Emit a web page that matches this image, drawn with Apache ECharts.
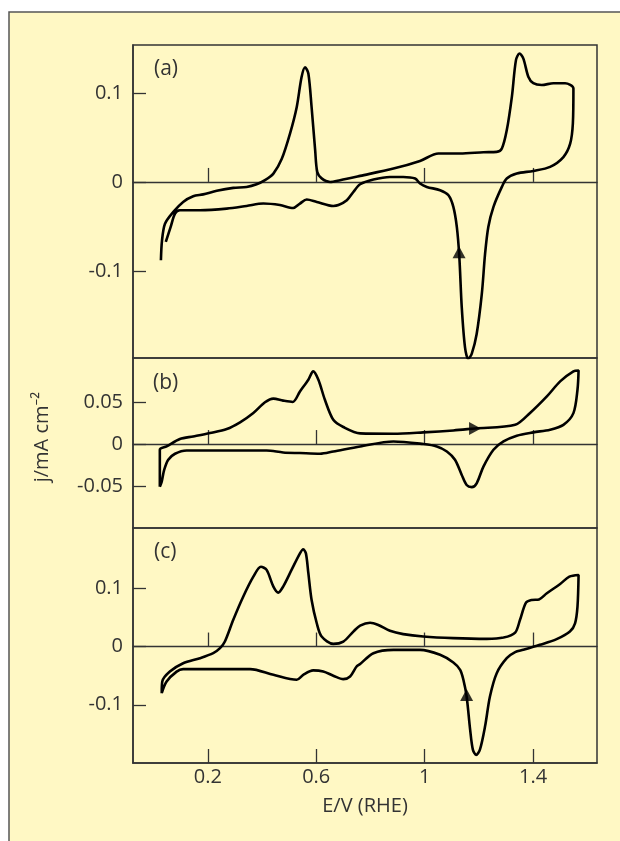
<!DOCTYPE html>
<html>
<head>
<meta charset="utf-8">
<script src="https://cdn.jsdelivr.net/npm/echarts@6/dist/echarts.min.js"></script>
<style>
  html, body { margin: 0; padding: 0; background: #fff; }
  #chart { width: 620px; height: 841px; }
</style>
</head>
<body>
<div id="chart"></div>
<script>
// --- data: [E (V vs RHE), j (mA cm-2)] ---
// (a) full loop, anodic sweep first then cathodic return
var cvA = [
  [0.027,-0.088],[0.031,-0.066],[0.042,-0.047],[0.072,-0.034],[0.109,-0.0225],[0.146,-0.016],
  [0.183,-0.014],[0.233,-0.010],[0.294,-0.0067],[0.343,-0.0056],[0.380,-0.0026],[0.411,0.002],
  [0.442,0.0094],[0.473,0.026],[0.503,0.054],[0.528,0.084],[0.546,0.118],[0.559,0.129],
  [0.571,0.122],[0.583,0.084],[0.596,0.036],[0.604,0.011],[0.620,0.004],[0.651,0.0],
  [0.688,0.002],[0.762,0.0068],[0.885,0.015],[0.983,0.0236],[1.051,0.032],[1.131,0.032],
  [1.217,0.0334],[1.266,0.0338],[1.285,0.0376],[1.303,0.058],[1.322,0.096],[1.337,0.137],
  [1.350,0.1445],[1.364,0.139],[1.383,0.118],[1.401,0.111],[1.432,0.109],[1.475,0.111],
  [1.518,0.111],[1.549,0.105],[1.547,0.066],[1.537,0.043],[1.512,0.028],[1.463,0.017],
  [1.401,0.0124],[1.340,0.0094],[1.303,0.0038],[1.285,-0.0056],[1.254,-0.028],[1.235,-0.0506],
  [1.223,-0.081],[1.211,-0.126],[1.192,-0.171],[1.174,-0.193],[1.161,-0.199],[1.149,-0.186],
  [1.137,-0.141],[1.128,-0.084],[1.119,-0.051],[1.106,-0.028],[1.088,-0.015],[1.057,-0.0093],
  [1.008,-0.0056],[0.983,-0.0018],[0.965,0.0038],[0.921,0.0056],[0.872,0.0056],[0.811,0.0027],
  [0.762,-0.0026],[0.737,-0.0113],[0.713,-0.0206],[0.682,-0.026],[0.663,-0.027],[0.602,-0.0225],
  [0.565,-0.0198],[0.540,-0.0243],[0.515,-0.0293],[0.466,-0.026],[0.405,-0.0243],[0.343,-0.027],
  [0.270,-0.030],[0.171,-0.0318],[0.097,-0.0318],[0.079,-0.0356],[0.063,-0.0506],[0.045,-0.0675]
];
// (b)
var cvB = [
  [0.023,-0.051],[0.023,-0.0068],[0.048,-0.0029],[0.097,0.006],[0.146,0.0091],[0.208,0.0132],
  [0.270,0.018],[0.319,0.026],[0.368,0.0372],[0.411,0.050],[0.442,0.0544],[0.478,0.052],
  [0.513,0.0504],[0.540,0.063],[0.571,0.077],[0.589,0.087],[0.608,0.077],[0.632,0.053],
  [0.663,0.029],[0.700,0.0204],[0.762,0.0128],[0.885,0.0124],[0.995,0.014],[1.106,0.0163],
  [1.186,0.0187],[1.334,0.023],[1.389,0.0372],[1.451,0.057],[1.500,0.075],[1.549,0.087],
  [1.568,0.088],[1.564,0.065],[1.549,0.037],[1.512,0.023],[1.463,0.0172],[1.401,0.014],
  [1.340,0.010],[1.291,0.0031],[1.254,-0.0068],[1.217,-0.027],[1.192,-0.047],[1.174,-0.0516],
  [1.155,-0.049],[1.137,-0.037],[1.112,-0.0188],[1.082,-0.0089],[1.045,-0.0029],[0.995,0.0],
  [0.885,0.0031],[0.762,-0.0029],[0.663,-0.0089],[0.614,-0.0116],[0.540,-0.0108],[0.478,-0.0101],
  [0.417,-0.0077],[0.294,-0.0077],[0.122,-0.0077],[0.079,-0.0116],[0.054,-0.0188],[0.039,-0.031],
  [0.030,-0.045],[0.023,-0.051]
];
// (c)
var cvC = [
  [0.030,-0.080],[0.032,-0.060],[0.060,-0.043],[0.109,-0.0286],[0.171,-0.020],[0.220,-0.0114],
  [0.245,-0.0028],[0.263,0.0086],[0.294,0.046],[0.331,0.086],[0.368,0.120],[0.396,0.137],
  [0.417,0.1316],[0.442,0.103],[0.460,0.0926],[0.478,0.103],[0.509,0.1316],[0.540,0.160],
  [0.552,0.167],[0.562,0.160],[0.571,0.126],[0.583,0.080],[0.602,0.040],[0.620,0.0172],
  [0.663,0.0046],[0.700,0.0086],[0.737,0.0257],[0.762,0.036],[0.799,0.041],[0.829,0.037],
  [0.872,0.027],[0.921,0.0213],[0.995,0.0172],[1.106,0.0144],[1.229,0.0132],[1.291,0.0154],
  [1.334,0.024],[1.352,0.046],[1.374,0.0755],[1.395,0.080],[1.422,0.081],[1.451,0.0916],
  [1.500,0.1075],[1.534,0.120],[1.568,0.123],[1.564,0.0686],[1.555,0.040],[1.536,0.0257],
  [1.487,0.0127],[1.425,0.0029],[1.364,-0.0057],[1.334,-0.0096],[1.303,-0.020],[1.266,-0.0457],
  [1.241,-0.0858],[1.223,-0.137],[1.204,-0.177],[1.190,-0.186],[1.178,-0.177],[1.168,-0.143],
  [1.155,-0.0858],[1.143,-0.057],[1.131,-0.040],[1.106,-0.0274],[1.057,-0.0142],[0.983,-0.0057],
  [0.885,-0.0057],[0.811,-0.0114],[0.762,-0.0300],[0.749,-0.0343],[0.725,-0.0515],[0.700,-0.056],
  [0.663,-0.050],[0.626,-0.0429],[0.589,-0.041],[0.552,-0.0486],[0.528,-0.057],[0.442,-0.0486],
  [0.356,-0.0388],[0.109,-0.0388],[0.085,-0.043],[0.048,-0.060],[0.030,-0.080]
];
// sweep direction arrows
var arrowA = [[1.127, -0.079]];
var arrowB = [[1.186, 0.0187]];
var arrowC = [[1.155, -0.083]];

var xTicks = [0.2, 0.6, 1.0, 1.4];
var yTicksA = [-0.1, 0, 0.1];
var yTicksB = [-0.05, 0, 0.05];
var yTicksC = [-0.1, 0, 0.1];
var panelNames = ['(a)', '(b)', '(c)'];

var FONT = '"Open Sans", "Noto Sans", sans-serif';
var INK = '#333';
var FS = 20;

function fmt(v) {
  if (Math.abs(v) < 1e-9) return '0';
  return String(+v.toFixed(2));
}

// panel geometry
var grids = [
  { left: 133, top: 45, width: 464, height: 313 },
  { left: 133, top: 358, width: 464, height: 170 },
  { left: 133, top: 528, width: 464, height: 235 }
];
var yRanges = [[-0.198, 0.154], [-0.1005, 0.103], [-0.2, 0.2036]];
var yTicks = [yTicksA, yTicksB, yTicksC];

var xAxes = [], yAxes = [];
grids.forEach(function (g, i) {
  g.show = true;
  g.borderColor = INK;
  g.borderWidth = 1.5;
  g.backgroundColor = 'transparent';
  // axis through zero with inward ticks
  xAxes.push({
    type: 'value', gridIndex: i, min: -0.076, max: 1.636,
    axisLine: { onZero: true, lineStyle: { color: INK, width: 1.3 } },
    axisTick: { inside: true, length: 14, customValues: xTicks, lineStyle: { color: INK, width: 1.3 } },
    axisLabel: { show: false },
    splitLine: { show: false }
  });
  yAxes.push({
    type: 'value', gridIndex: i, min: yRanges[i][0], max: yRanges[i][1],
    axisLine: { show: true, onZero: false, lineStyle: { color: INK, width: 1.5 } },
    axisTick: { inside: true, length: 13, customValues: yTicks[i], lineStyle: { color: INK, width: 1.3 } },
    axisLabel: {
      customValues: yTicks[i], formatter: fmt, margin: 10,
      fontFamily: FONT, fontSize: FS, color: INK
    },
    splitLine: { show: false }
  });
});
// bottom labelled axis on panel (c)
xAxes.push({
  type: 'value', gridIndex: 2, min: -0.076, max: 1.636, position: 'bottom',
  axisLine: { onZero: false, lineStyle: { color: INK, width: 1.5 } },
  axisTick: { inside: true, length: 14, customValues: xTicks, lineStyle: { color: INK, width: 1.3 } },
  axisLabel: {
    customValues: xTicks, formatter: fmt, margin: 4,
    fontFamily: FONT, fontSize: FS, color: INK
  },
  splitLine: { show: false },
  name: 'E/V (RHE)', nameLocation: 'middle', nameGap: 33,
  nameTextStyle: { fontFamily: FONT, fontSize: FS, color: INK }
});

function curve(data, i) {
  return {
    type: 'line', xAxisIndex: i, yAxisIndex: i, data: data,
    showSymbol: false, smooth: 0.3, silent: true,
    lineStyle: { color: '#000', width: 2.6 }
  };
}
function arrow(data, i, rot) {
  return {
    type: 'scatter', xAxisIndex: i, yAxisIndex: i, data: data,
    symbol: 'triangle', symbolSize: [13, 12], symbolRotate: rot, silent: true,
    itemStyle: { color: '#000' }
  };
}

var opt = {
  backgroundColor: '#fff',
  animation: false,
  grid: grids,
  xAxis: xAxes,
  yAxis: yAxes,
  series: [
    curve(cvA, 0), curve(cvB, 1), curve(cvC, 2),
    arrow(arrowA, 0, 0), arrow(arrowB, 1, -90), arrow(arrowC, 2, 0)
  ],
  graphic: [
    {
      type: 'rect', z: -10, silent: true,
      shape: { x: 9, y: 12, width: 700, height: 900 },
      style: { fill: '#fff8c4', stroke: '#555', lineWidth: 1.5 }
    },
    {
      type: 'text', x: 42, y: 437, rotation: Math.PI / 2, silent: true,
      style: {
        text: 'j/mA cm\u207B\u00B2', fontFamily: FONT, fontSize: FS, fill: INK,
        align: 'center', verticalAlign: 'middle'
      }
    },
    { type: 'text', x: 154, y: 69, silent: true,
      style: { text: panelNames[0], fontFamily: FONT, fontSize: 21, fill: INK, verticalAlign: 'middle' } },
    { type: 'text', x: 153, y: 383, silent: true,
      style: { text: panelNames[1], fontFamily: FONT, fontSize: 21, fill: INK, verticalAlign: 'middle' } },
    { type: 'text', x: 154, y: 552, silent: true,
      style: { text: panelNames[2], fontFamily: FONT, fontSize: 21, fill: INK, verticalAlign: 'middle' } }
  ]
};

var chart = echarts.init(document.getElementById('chart'));
chart.setOption(opt);
</script>
</body>
</html>
